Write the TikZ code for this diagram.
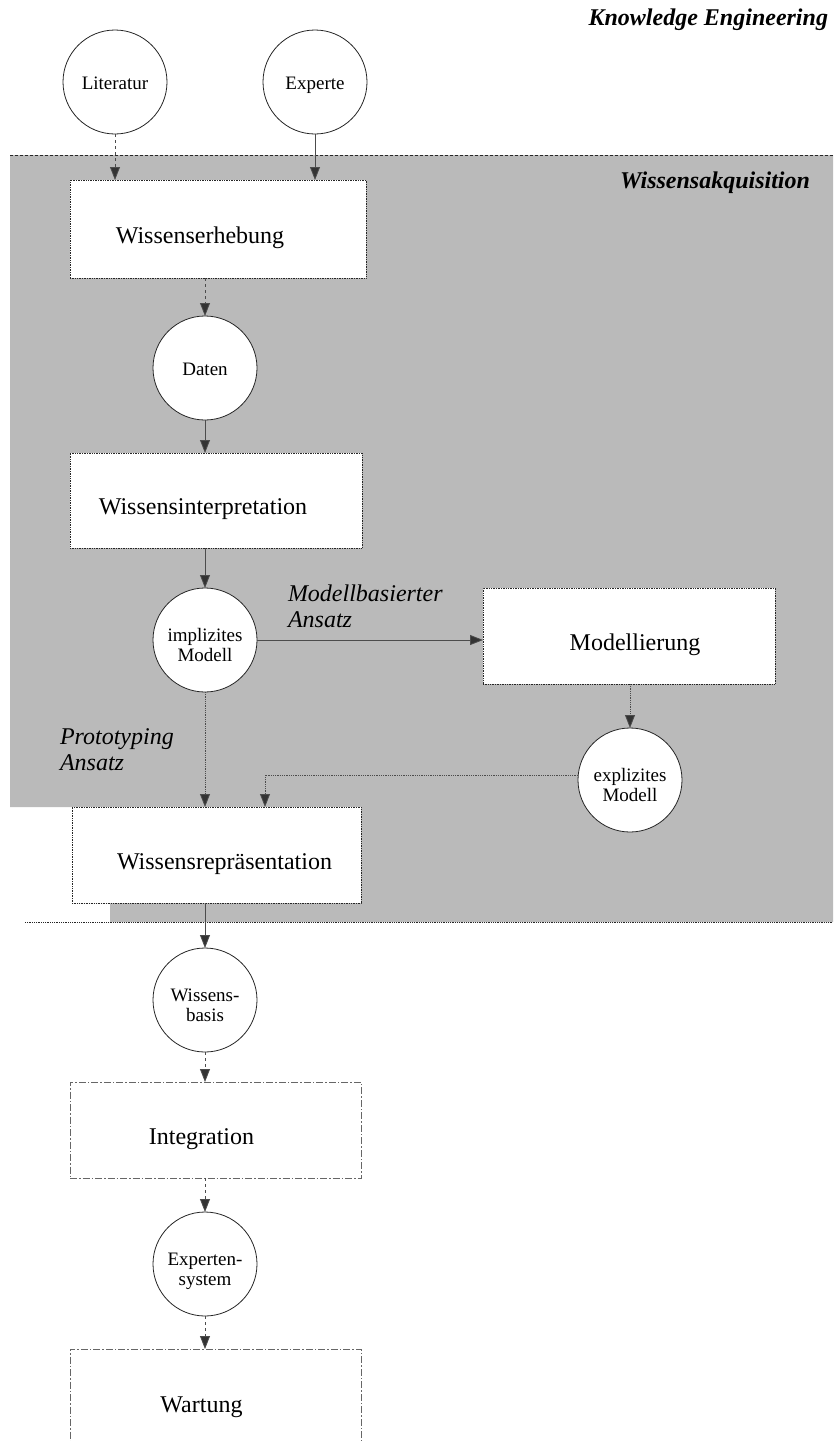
\documentclass[tikz,border=0pt]{standalone}
\usepackage{fontspec}
\setmainfont{Liberation Serif}
\usetikzlibrary{arrows.meta}
\definecolor{acqfill}{gray}{0.73}
\definecolor{ink}{gray}{0.15}
\definecolor{wire}{gray}{0.3}
\tikzset{
  every node/.style={inner sep=0pt, outer sep=0pt},
  stage/.style={circle, draw=ink, line width=0.8pt, fill=white,
    minimum size=104pt, align=center, font=\fontsize{19}{20}\selectfont,
    text height=14pt, text depth=0pt},
  twoline/.style={text height=42pt, text depth=0pt},
  taskbox/.style={rectangle, draw=ink, densely dotted, line width=0.7pt, fill=white,
    font=\fontsize{24}{28}\selectfont, text height=28pt, text depth=0pt},
  outbox/.style={rectangle, draw=black!60, line width=0.7pt,
    dash pattern=on 7pt off 2pt on 1.5pt off 2pt,
    font=\fontsize{24}{28}\selectfont, text height=28pt, text depth=0pt},
  heading/.style={font=\bfseries\itshape\fontsize{24}{28}\selectfont, anchor=base east},
  note/.style={font=\itshape\fontsize{24}{25.5}\selectfont, anchor=base west, align=left},
  conn/.style={draw=wire, line width=0.8pt,
    -{Triangle[width=10pt,length=13pt,fill=black!80]}},
  areaedge/.style={draw=ink, line width=0.8pt, dash pattern=on 3pt off 2pt},
}
\begin{document}
\begin{tikzpicture}[x=1pt,y=-1pt]
\useasboundingbox (0,0) rectangle (833,1441);
\clip (0,0) rectangle (833,1441);

% acquisition area
\fill[acqfill] (10,155) -- (833,155) -- (833,922) -- (110,922) -- (110,903)
  -- (72,903) -- (72,807) -- (10,807) -- cycle;
\draw[areaedge] (10,155) -- (833,155);
\draw[areaedge, densely dotted] (25,922) -- (833,922);

% headings
\node[heading] (title) at (828,25) {Knowledge Engineering};
\node[heading] (phase) at (810,188) {Wissensakquisition};

% sources
\node[stage] (lit) at (115,82) {Literatur};
\node[stage] (expert) at (315,82) {Experte};

% acquisition steps
\node[taskbox, minimum width=296pt, minimum height=98pt] (erheb) at (218,229)
  {\hspace*{-18pt}Wissenserhebung\hspace*{18pt}};
\node[stage] (daten) at (205,368) {Daten};
\node[taskbox, minimum width=292pt, minimum height=95pt] (interp) at (216,500.5)
  {\hspace*{-13pt}Wissensinterpretation\hspace*{13pt}};
\node[stage, twoline] (impl) at (205,640) {implizites\\Modell};
\node[taskbox, minimum width=292pt, minimum height=96pt] (modell) at (629,636)
  {\hspace*{6pt}Modellierung\hspace*{-6pt}};
\node[stage, twoline] (expl) at (630,780) {explizites\\Modell};
\node[taskbox, minimum width=289pt, minimum height=96pt] (rep) at (216.5,855)
  {\hspace*{8pt}Wissensrepräsentation\hspace*{-8pt}};

% path labels (anchored at the baseline of their last line)
\node[note] (mba) at (288,627) {Modellbasierter\\Ansatz};
\node[note, font=\itshape\fontsize{24}{26}\selectfont] (pta) at (60,770) {Prototyping\\Ansatz};

% later phases
\node[stage, twoline] (basis) at (205,1000) {Wissens-\\basis};
\node[outbox, minimum width=291pt, minimum height=96pt] (integ) at (215.5,1130)
  {\hspace*{-14pt}Integration\hspace*{14pt}};
\node[stage, twoline] (system) at (205,1264) {Experten-\\system};
\node[outbox, minimum width=291pt, minimum height=98pt] (wart) at (215.5,1398)
  {\hspace*{-14pt}Wartung\hspace*{14pt}};

% connectors
\draw[conn, dashed] (lit) -- (erheb.north -| lit);
\draw[conn] (expert) -- (erheb.north -| expert);
\draw[conn, dashed] (erheb.south -| daten) -- (daten);
\draw[conn] (daten) -- (interp.north -| daten);
\draw[conn] (interp.south -| impl) -- (impl);
\draw[conn] (impl) -- (modell.west |- impl);
\draw[conn, densely dotted] (impl) -- (rep.north -| impl);
\draw[conn, densely dotted] (modell.south -| expl) -- (expl);
\coordinate (join) at (265,775);
\draw[conn, densely dotted] (expl.west |- join) -- (join) -- (rep.north -| join);
\draw[conn] (rep.south -| basis) -- (basis);
\draw[conn, dashed] (basis) -- (integ.north -| basis);
\draw[conn, dashed] (integ.south -| system) -- (system);
\draw[conn, dashed] (system) -- (wart.north -| system);
\end{tikzpicture}
\end{document}
